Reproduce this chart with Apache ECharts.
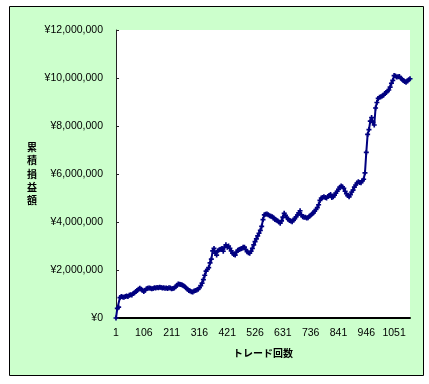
<!DOCTYPE html>
<html>
<head>
<meta charset="utf-8">
<script src="https://cdn.jsdelivr.net/npm/echarts@6/dist/echarts.min.js"></script>
<style>
html,body{margin:0;padding:0;background:#fff;}
#c{width:429px;height:384px;}
</style>
</head>
<body>
<div id="c"></div>
<script>
// Sampled every 5 trades (trade numbers 1, 6, 11, ... 1111)
const tradeStep = 5;
const tradeCount = 223;
const tradeNumbers = Array.from({length: tradeCount}, (_, i) => String(1 + tradeStep * i));

// Cumulative profit/loss (yen)
const cumulativePL = [
  0, 400000, 450000, 850000, 900000, 880000, 860000, 900000, 920000, 900000,
  950000, 970000, 960000, 1020000, 1050000, 1100000, 1150000, 1200000, 1240000, 1200000,
  1160000, 1100000, 1160000, 1220000, 1240000, 1250000, 1240000, 1220000, 1230000, 1260000,
  1250000, 1270000, 1260000, 1280000, 1270000, 1250000, 1260000, 1240000, 1250000, 1230000,
  1260000, 1250000, 1220000, 1230000, 1250000, 1300000, 1360000, 1420000, 1410000, 1400000,
  1380000, 1340000, 1300000, 1250000, 1200000, 1150000, 1120000, 1090000, 1080000, 1120000,
  1150000, 1170000, 1200000, 1260000, 1350000, 1450000, 1600000, 1780000, 1950000, 2020000,
  2100000, 2300000, 2450000, 2800000, 2900000, 2700000, 2620000, 2800000, 2840000, 2860000,
  2900000, 2780000, 2950000, 3050000, 2950000, 3000000, 2900000, 2800000, 2700000, 2650000,
  2620000, 2750000, 2820000, 2850000, 2880000, 2900000, 2950000, 2950000, 2850000, 2760000,
  2720000, 2700000, 2780000, 2900000, 3050000, 3180000, 3300000, 3420000, 3530000, 3650000,
  3820000, 4100000, 4300000, 4320000, 4330000, 4300000, 4260000, 4240000, 4220000, 4180000,
  4100000, 4080000, 4050000, 4000000, 3950000, 4050000, 4200000, 4360000, 4280000, 4180000,
  4120000, 4060000, 4040000, 4010000, 4080000, 4140000, 4220000, 4290000, 4380000, 4470000,
  4300000, 4220000, 4200000, 4200000, 4170000, 4180000, 4240000, 4280000, 4330000, 4380000,
  4450000, 4520000, 4600000, 4720000, 4900000, 5000000, 5020000, 5050000, 5020000, 5000000,
  5060000, 5100000, 5150000, 5020000, 5050000, 5120000, 5200000, 5280000, 5360000, 5450000,
  5500000, 5470000, 5400000, 5280000, 5180000, 5100000, 5050000, 5140000, 5250000, 5330000,
  5450000, 5540000, 5620000, 5680000, 5650000, 5640000, 5720000, 5780000, 6050000, 6900000,
  7650000, 7850000, 8200000, 8350000, 8150000, 8040000, 8750000, 8980000, 9150000, 9200000,
  9220000, 9250000, 9280000, 9350000, 9400000, 9460000, 9500000, 9620000, 9780000, 9900000,
  10100000, 10080000, 10040000, 10050000, 10060000, 9990000, 9950000, 9900000, 9850000, 9820000,
  9880000, 9930000, 9970000
];

// Axis settings
const yMin = 0;
const yMax = 12000000;
const yInterval = 2000000;
const xLabelEvery = 20; // shows 1, 106, 211, ... 1051
const xAxisTitle = 'トレード回数';
const yAxisTitle = '累積損益額';

const chart = echarts.init(document.getElementById('c'), null, {renderer: 'canvas'});

const plusPath = 'path://M1,0H2V1H3V2H2V3H1V2H0V1H1Z';

chart.setOption({
  animation: false,
  backgroundColor: '#ffffff',
  graphic: [
    {type: 'rect', z: -20, silent: true,
     shape: {x: 9.5, y: 6.5, width: 414, height: 369},
     style: {fill: '#CCFFCC', stroke: '#000000', lineWidth: 1}},
    {type: 'rect', z: -19, silent: true,
     shape: {x: 116, y: 30, width: 294, height: 288},
     style: {fill: '#ffffff'}}
  ],
  grid: {left: 116, top: 30, width: 294, height: 288, show: false},
  xAxis: {
    type: 'category',
    data: tradeNumbers,
    boundaryGap: false,
    axisLine: {show: true, lineStyle: {color: '#000', width: 2}},
    axisTick: {show: false},
    axisLabel: {
      interval: xLabelEvery,
      margin: 10,
      color: '#000',
      fontSize: 10.5,
      fontFamily: 'Liberation Sans, Arial, sans-serif'
    },
    splitLine: {show: false},
    name: xAxisTitle,
    nameLocation: 'middle',
    nameGap: 30,
    nameTextStyle: {
      color: '#000', fontSize: 10, fontWeight: 'bold',
      fontFamily: 'Noto Sans CJK JP, sans-serif'
    }
  },
  yAxis: {
    type: 'value',
    min: yMin,
    max: yMax,
    interval: yInterval,
    axisLine: {show: true, lineStyle: {color: '#222', width: 1}},
    axisTick: {show: true, inside: true, length: 3, lineStyle: {color: '#222'}},
    splitLine: {show: false},
    axisLabel: {
      margin: 13,
      color: '#000',
      fontSize: 10.5,
      fontFamily: 'Liberation Sans, Arial, sans-serif',
      formatter: v => '¥' + v.toLocaleString('en-US')
    },
    name: yAxisTitle.split('').join('\n'),
    nameLocation: 'middle',
    nameRotate: 0,
    nameGap: 84,
    nameTextStyle: {
      color: '#000', fontSize: 10, fontWeight: 'bold', lineHeight: 13.3,
      align: 'center', verticalAlign: 'middle',
      fontFamily: 'Noto Sans CJK JP, sans-serif'
    }
  },
  series: [{
    type: 'line',
    data: cumulativePL,
    showSymbol: true,
    showAllSymbol: true,
    symbol: plusPath,
    symbolSize: 5,
    itemStyle: {color: '#000080'},
    lineStyle: {color: '#000080', width: 2},
    z: 3
  }]
});
</script>
</body>
</html>
